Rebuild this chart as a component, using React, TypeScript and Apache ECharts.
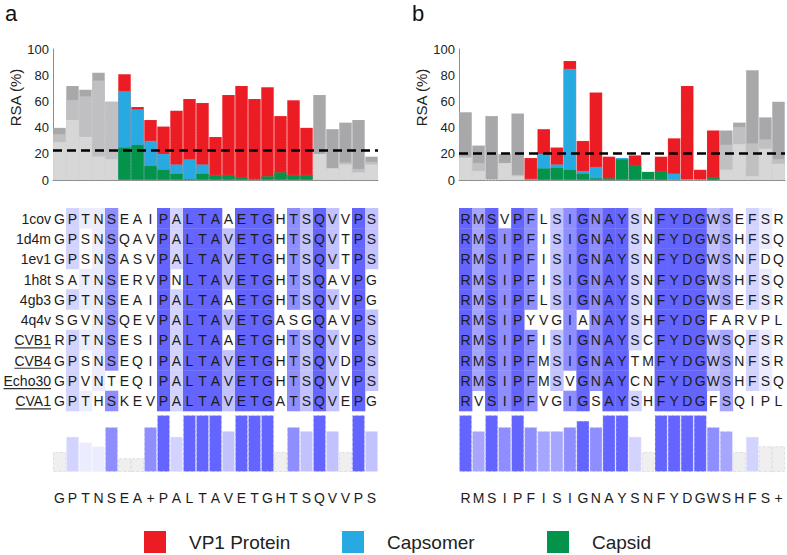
import React, { useEffect, useRef } from 'react';
import * as echarts from 'echarts';

const FONT = '"Liberation Sans", Arial, Helvetica, sans-serif';

// ---------- data ----------
const columnIds = Array.from({ length: 25 }, (_, i) => String(i));

const consensusA = ['G','P','T','N','S','E','A','+','P','A','L','T','A','V','E','T','G','H','T','S','Q','V','V','P','S'];
const consensusB = ['R','M','S','I','P','F','I','S','I','G','N','A','Y','S','N','F','Y','D','G','W','S','H','F','S','+'];

const rowNames = ['1cov', '1d4m', '1ev1', '1h8t', '4gb3', '4q4v', 'CVB1', 'CVB4', 'Echo30', 'CVA1'];
const underlinedRows = ['CVB1', 'CVB4', 'Echo30', 'CVA1'];

const seqA = [
  'GPTNSEAIPALTAAETGHTSQVVPS',
  'GPSNSQAVPALTAVETGHTSQVTPS',
  'GPSNSASVPALTAVETGHTSQVTPS',
  'SATNSERVPNLTAVETGHTSQAVPG',
  'GPTNSEAIPALTAAETGHTSQVVPG',
  'SGVNSQEVPALTAVETGASGQAVPS',
  'RPTNSESIPALTAAETGHTSQVVPS',
  'GPSNSEQIPALTAVETGHTSQVDPS',
  'GPVNTEQIPALTAVETGHTSQVVPS',
  'GPTHSKEVPALTAVETGATSQVEPG',
];
const seqB = [
  'RMSVPFLSIGNAYSNFYDGWSEFSR',
  'RMSIPFISIGNAYSNFYDGWSHFSQ',
  'RMSIPFISIGNAYSNFYDGWSNFDQ',
  'RMSIPFISIGNAYSNFYDGWSHFSQ',
  'RMSIPFLSIGNAYSNFYDGWSEFSR',
  'RMSIPYVGIANAYSHFYDGFARVPL',
  'RMSIPFISIGNAYSCFYDGWSQFSR',
  'RMSIPFMSIGNAYTMFYDGWSNFSR',
  'RMSIPFMSVGNAYCNFYDGWSHFSQ',
  'RVSIPFVGIGSAYSHFYDGFSQIPL',
];

// identity shading level per column (0 = none … 6 = darkest)
const cellLevelA = [0,2,1,1,5,0,0,0,6,2,6,6,6,3,6,6,6,0,5,3,6,3,0,6,3];
const cellLevelB = [6,4,6,5,6,5,0,3,5,6,5,6,6,2,0,6,6,6,6,3,4,0,2,1,0];

// conservation histogram
const consA = [35,62,52,45,79,24,24,79,100,62,100,100,100,72,100,100,100,35,79,72,100,72,35,100,72];
const consB = [100,72,100,79,100,79,72,72,79,90,79,100,100,62,35,100,100,100,100,79,72,35,62,45,45];
const consLevelA = [0,2,1,1,5,0,0,5,6,2,6,6,6,3,6,6,6,0,5,3,6,3,0,6,3];
const consLevelB = [6,4,6,5,6,5,4,4,5,6,5,6,6,2,0,6,6,6,6,5,4,0,2,0,0];

// RSA (%) — tops of each layer
const _ = null;
const greyDarkA  = [40,72,69,82,60, _,_,_,_,_,_,_,_,_,_,_,_,_,_,_, 65,39,44,46,18];
const greyMidA   = [35,61,64,76,60, _,_,_,_,_,_,_,_,_,_,_,_,_,_,_, 20,9,13.5,8.5,14];
const greyLightA = [29,46,33,18,16, _,_,_,_,_,_,_,_,_,_,_,_,_,_,_, 20,9,12,6,12];
const vp1A      = [_,_,_,_,_, 81,56,46,41,53,62,59,33,65,72,62,71,49,61,40, _,_,_,_,_];
const capsomerA = [_,_,_,_,_, 68,54,30,20,12,16,12,_,_,_,_,_,_,_,_, _,_,_,_,_];
const capsidA   = [_,_,_,_,_, 25,27,11,8,5,1,5,4,4,2,1,3,6,4,4, _,_,_,_,_];

const greyDarkB  = [52,26.5,49,20,51, _,_,_,_,_,_,_,_,_,_,_,_,_,_,_, 38,44,84,48,60];
const greyMidB   = [18,13,0,13,4, _,_,_,_,_,_,_,_,_,_,_,_,_,_,_, 27,40.5,28,31,16];
const greyLightB = [17,7,0,13,3, _,_,_,_,_,_,_,_,_,_,_,_,_,_,_, 8,27.5,3,24,12.5];
const vp1B      = [_,_,_,_,_, 17,39,25,91,30,67,18,_,19,_,18,32,72,8,38, _,_,_,_,_];
const capsomerB = [_,_,_,_,_, 1,20,12,85,7,10,_,17,_,_,_,5,_,_,_, _,_,_,_,_];
const capsidB   = [_,_,_,_,_, 0.5,9,9.5,8,5,1.5,1.5,16,11,6.4,7,0.5,0,0,2, _,_,_,_,_];

const thresholdA = 22.5;
const thresholdB = 20.5;

const yTicks = [0, 20, 40, 60, 80, 100];

// ---------- styles ----------
const SHADES = [null, '#ececff', '#d3d3ff', '#c2c2ff', '#a6a6ff', '#8e8eff', '#6464ff'];
const HIST_GREY = '#efefef';
const RED = '#ec1c24';
const BLUE = '#27aae1';
const GREEN = '#03934a';

let measureCtx: CanvasRenderingContext2D | null = null;
function textWidth(t: string, size: number) {
  if (!measureCtx) measureCtx = document.createElement('canvas').getContext('2d');
  if (!measureCtx) return t.length * size * 0.55;
  measureCtx.font = `${size}px ${FONT}`;
  return measureCtx.measureText(t).width;
}

function buildOption() {
  const grids: any[] = [];
  const xAxes: any[] = [];
  const yAxes: any[] = [];
  const series: any[] = [];

  const panels = [
    { left: 53, width: 325, cons: consensusA, seqs: seqA, cellLevel: cellLevelA, hist: consA, histLevel: consLevelA,
      gd: greyDarkA, gm: greyMidA, gl: greyLightA, red: vp1A, blue: capsomerA, green: capsidA, thr: thresholdA, labels: true },
    { left: 459, width: 326, cons: consensusB, seqs: seqB, cellLevel: cellLevelB, hist: consB, histLevel: consLevelB,
      gd: greyDarkB, gm: greyMidB, gl: greyLightB, red: vp1B, blue: capsomerB, green: capsidB, thr: thresholdB, labels: false },
  ];

  panels.forEach((p, pi) => {
    // --- RSA bar grid ---
    const gBar = grids.length;
    grids.push({ left: p.left, width: p.width, top: 49, height: 131 });
    xAxes.push({
      type: 'category', gridIndex: gBar, data: columnIds,
      axisLine: { lineStyle: { color: '#8c8c8c', width: 1 } },
      axisTick: { show: false }, axisLabel: { show: false },
    });
    yAxes.push({
      type: 'value', gridIndex: gBar, min: 0, max: 100, interval: 20,
      name: 'RSA (%)', nameLocation: 'middle', nameGap: 21,
      nameTextStyle: { fontSize: 15, color: '#222', fontFamily: FONT, padding: [0, 0, 0, 34] },
      axisLine: { show: true, lineStyle: { color: '#8c8c8c', width: 1 } },
      axisTick: { show: false }, splitLine: { show: false },
      axisLabel: { fontSize: 13, color: '#222', fontFamily: FONT, margin: 4,
        formatter: (v: number) => (yTicks.includes(v) ? String(v) : '') },
    });
    const barBase = {
      type: 'bar', xAxisIndex: gBar, yAxisIndex: gBar, barWidth: '100%', barGap: '-100%',
      silent: true,
    };
    const border = { borderColor: 'rgba(255,255,255,0.22)', borderWidth: 0.5, borderType: 'dashed' };
    series.push({ ...barBase, name: 'grey-dark-' + pi, data: p.gd, itemStyle: { color: '#a8a8ab', ...border } });
    series.push({ ...barBase, name: 'grey-mid-' + pi, data: p.gm, itemStyle: { color: '#c0c0c2', ...border } });
    series.push({ ...barBase, name: 'grey-light-' + pi, data: p.gl, itemStyle: { color: '#d7d7d8', ...border } });
    series.push({ ...barBase, name: 'VP1 Protein', data: p.red, itemStyle: { color: RED, ...border } });
    series.push({ ...barBase, name: 'Capsomer', data: p.blue, itemStyle: { color: BLUE, ...border } });
    series.push({
      ...barBase, name: 'Capsid', data: p.green, itemStyle: { color: GREEN, ...border }, z: 3,
      markLine: {
        silent: true, symbol: 'none', z: 10,
        label: { show: false },
        lineStyle: { color: '#000', type: [9, 5], width: 2.5 },
        data: [{ yAxis: p.thr }],
      },
    });

    // --- alignment grid ---
    const gAl = grids.length;
    grids.push({ left: p.left, width: p.width, top: 208, height: 203 });
    xAxes.push({ type: 'category', gridIndex: gAl, data: columnIds, show: false });
    yAxes.push({ type: 'category', gridIndex: gAl, data: rowNames, inverse: true, show: false });

    const cellData: any[] = [];
    p.seqs.forEach((s, r) => {
      for (let c = 0; c < s.length; c++) cellData.push([c, r]);
    });
    series.push({
      type: 'custom', name: 'align-' + pi, xAxisIndex: gAl, yAxisIndex: gAl, silent: true,
      data: cellData,
      encode: { x: 0, y: 1 },
      renderItem: (params: any, api: any) => {
        const c = api.value(0);
        const r = api.value(1);
        const pt = api.coord([c, r]);
        const sz = api.size([1, 1]);
        const letter = p.seqs[r][c];
        const lvl = p.cellLevel[c];
        const children: any[] = [];
        if (lvl > 0 && letter === p.cons[c]) {
          children.push({
            type: 'rect',
            shape: { x: pt[0] - sz[0] / 2, y: pt[1] - sz[1] / 2, width: sz[0] + 0.3, height: sz[1] + 0.3 },
            style: { fill: SHADES[lvl] },
          });
        }
        children.push({
          type: 'text',
          style: { text: letter, x: pt[0], y: pt[1] + 0.5, align: 'center', verticalAlign: 'middle',
            fontSize: 14, fontFamily: FONT, fill: '#1c1c1c' },
        });
        return { type: 'group', children };
      },
    });

    if (p.labels) {
      series.push({
        type: 'custom', name: 'rowlabels', xAxisIndex: gAl, yAxisIndex: gAl, silent: true,
        data: rowNames.map((_n, i) => [0, i]),
        encode: { x: 0, y: 1 },
        renderItem: (params: any, api: any) => {
          const r = api.value(1);
          const pt = api.coord([0, r]);
          const sz = api.size([1, 1]);
          const x = pt[0] - sz[0] / 2 - 2;
          const name = rowNames[r];
          const children: any[] = [{
            type: 'text',
            style: { text: name, x, y: pt[1] + 0.5, align: 'right', verticalAlign: 'middle',
              fontSize: 14, fontFamily: FONT, fill: '#1c1c1c' },
          }];
          if (underlinedRows.includes(name)) {
            const w = textWidth(name, 14);
            children.push({
              type: 'line',
              shape: { x1: x - w, y1: pt[1] + 8, x2: x, y2: pt[1] + 8 },
              style: { stroke: '#333', lineWidth: 1.2 },
            });
          }
          return { type: 'group', children };
        },
      });
    }

    // --- conservation histogram ---
    const gH = grids.length;
    grids.push({ left: p.left, width: p.width, top: 415, height: 57 });
    xAxes.push({
      type: 'category', gridIndex: gH, data: columnIds,
      axisLine: { show: false }, axisTick: { show: false },
      axisLabel: { show: true, interval: 0, margin: 19, fontSize: 14, fontFamily: FONT, color: '#1c1c1c',
        formatter: (_v: string, idx: number) => p.cons[idx] },
    });
    yAxes.push({ type: 'value', gridIndex: gH, min: 0, max: 100, show: false });
    series.push({
      type: 'bar', name: 'conservation-' + pi, xAxisIndex: gH, yAxisIndex: gH, barWidth: '100%', silent: true,
      data: p.hist.map((v, i) => ({
        value: v,
        itemStyle: {
          color: p.histLevel[i] > 0 ? SHADES[p.histLevel[i]] : HIST_GREY,
          borderColor: p.histLevel[i] > 0 ? 'rgba(240,240,250,0.6)' : '#dadada',
          borderWidth: 0.8, borderType: 'dashed',
        },
      })),
    });
  });

  const legendBase = {
    orient: 'horizontal', top: 531, padding: 0, itemWidth: 22, itemHeight: 22, icon: 'rect',
    selectedMode: false,
    itemStyle: { borderWidth: 0 },
    textStyle: { fontSize: 19, color: '#222', fontFamily: FONT, padding: [0, 0, 0, 18] },
  };

  return {
    animation: false,
    backgroundColor: '#ffffff',
    title: [
      { text: 'a', left: 5, top: 2, padding: 0, textStyle: { fontSize: 22, fontWeight: 'normal', color: '#111', fontFamily: FONT } },
      { text: 'b', left: 412, top: 2, padding: 0, textStyle: { fontSize: 22, fontWeight: 'normal', color: '#111', fontFamily: FONT } },
    ],
    legend: [
      { ...legendBase, left: 144, data: ['VP1 Protein'] },
      { ...legendBase, left: 342, data: ['Capsomer'] },
      { ...legendBase, left: 547, data: ['Capsid'] },
    ],
    grid: grids,
    xAxis: xAxes,
    yAxis: yAxes,
    series,
  };
}

export default function App() {
  const ref = useRef<HTMLDivElement>(null);
  useEffect(() => {
    if (!ref.current) return;
    const chart = echarts.init(ref.current, undefined, { renderer: 'svg' });
    chart.setOption(buildOption() as any);
    return () => chart.dispose();
  }, []);
  return (
    <div
      ref={ref}
      style={{ position: 'absolute', left: 0, top: 0, width: 787, height: 555, background: '#fff' }}
    />
  );
}
